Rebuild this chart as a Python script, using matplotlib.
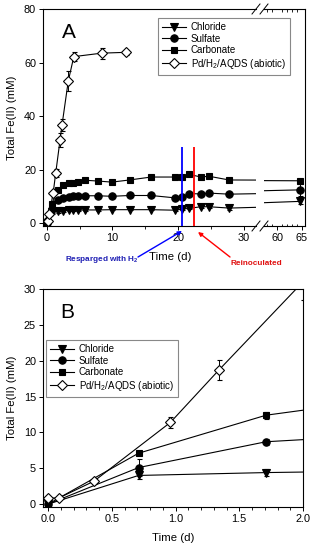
import matplotlib
matplotlib.use("Agg")
import matplotlib.pyplot as plt
from matplotlib.lines import Line2D

plt.rcParams['font.family'] = ['Liberation Sans', 'DejaVu Sans']
plt.rcParams['mathtext.fontset'] = 'custom'
plt.rcParams['mathtext.rm'] = 'Liberation Sans'
plt.rcParams['mathtext.bf'] = 'Liberation Sans:bold'

# ---- data ----
days_bio = [0, 0.71, 1.71, 2.5, 3.3, 4.0, 4.8, 5.8, 7.8, 9.9, 12.6,
            15.9, 19.6, 20.6, 21.7, 23.5, 24.7, 27.8, 64.6]
chloride = [0, 4.0, 4.4, 4.6, 4.7, 4.8, 4.8, 4.9, 4.9, 5.0, 5.0,
            5.0, 4.8, 5.2, 5.5, 6.1, 6.1, 5.6, 8.1]
chloride_err = [0, 0.5, 0.5, 0.3, 0.3, 0.3, 0.3, 0.3, 0.3, 0.3, 0.3,
                0.3, 0.3, 0.3, 0.3, 0.4, 0.4, 0.6, 0.8]
sulfate = [0, 5.1, 8.7, 9.5, 9.9, 10.1, 10.2, 10.2, 10.2, 10.0, 10.3,
           10.3, 9.4, 9.6, 11.0, 10.9, 11.2, 10.8, 12.4]
sulfate_err = [0, 1.2, 0.4, 0.3, 0.3, 0.3, 0.3, 0.3, 0.3, 0.3, 0.3,
               0.3, 0.3, 0.3, 0.4, 0.4, 0.4, 0.5, 2.2]
carbonate = [0, 7.1, 12.4, 14.3, 14.8, 15.1, 15.4, 16.0, 15.7, 15.3, 16.1,
             17.2, 17.2, 17.3, 18.2, 17.2, 17.5, 16.1, 15.8]
carbonate_err = [0, 0.3, 0.5, 0.3, 0.3, 0.3, 0.3, 0.3, 0.3, 0.3, 0.3,
                 0.3, 0.3, 0.3, 0.4, 0.4, 0.4, 0.5, 0.8]
abiotic_days = [0, 0.089, 0.36, 0.96, 1.34, 2.0, 2.3, 3.25, 4.1, 8.35, 12.0]
abiotic = [0.8, 0.9, 3.2, 11.4, 18.7, 31.0, 36.6, 53.0, 62.2, 63.5, 63.8]
abiotic_err = [0.2, 0.2, 0.3, 0.8, 1.4, 2.5, 2.3, 3.7, 1.8, 2.0, 1.0]

resparge_day = 20.6
reinoc_day = 22.5
event_line_top = 28.4

W, H = 313, 550
fig = plt.figure(figsize=(W / 100, H / 100), dpi=100)


def px_rect(x0, y0, x1, y1):
    """image pixel box (top-left origin) -> figure fraction rect"""
    return [x0 / W, 1 - y1 / H, (x1 - x0) / W, (y1 - y0) / H]


SERIES = [
    ("Chloride", "v", 5.6, "black", days_bio, chloride, chloride_err),
    ("Sulfate", "o", 5.3, "black", days_bio, sulfate, sulfate_err),
    ("Carbonate", "s", 5.0, "black", days_bio, carbonate, carbonate_err),
    ("Pd/H$_2$/AQDS (abiotic)", "D", 4.8, "white", abiotic_days, abiotic, abiotic_err),
]


def draw_series(ax):
    for i, (label, mk, ms, mfc, x, y, e) in enumerate(SERIES):
        ax.errorbar(x, y, yerr=e, fmt="-", marker=mk, ms=ms, mfc=mfc, mec="black",
                    mew=0.8, color="black", lw=0.8, elinewidth=0.7, capsize=1.8,
                    capthick=0.7, zorder=3 + i)


def style_axis(ax):
    ax.tick_params(axis="both", which="major", direction="out", length=3,
                   width=0.7, labelsize=7.8, pad=2)
    ax.tick_params(axis="both", which="minor", direction="out", length=1.8, width=0.6)
    for s in ax.spines.values():
        s.set_linewidth(0.8)


def legend_handles():
    return [Line2D([], [], color="black", lw=0.8, marker=mk, ms=ms, mfc=mfc,
                   mec="black", mew=0.8) for (_, mk, ms, mfc, *_r) in SERIES]


labels = [s[0] for s in SERIES]

# ---------------- panel A (broken x axis) ----------------
axL = fig.add_axes(px_rect(43, 9, 256, 226))
axR = fig.add_axes(px_rect(264, 9, 305, 226), sharey=axL)
for ax in (axL, axR):
    draw_series(ax)
    style_axis(ax)
axL.set_xlim(-0.6, 31.9)
axR.set_xlim(57.4, 65.6)
axL.set_ylim(-1.1, 80)
axL.set_xticks([0, 10, 20, 30])
axL.set_xticks([5, 15, 25], minor=True)
axL.set_yticks([0, 20, 40, 60, 80])
axR.set_xticks([60, 65])
axR.set_xticks(range(58, 66), minor=True)
axL.spines["right"].set_visible(False)
axR.spines["left"].set_visible(False)
axR.tick_params(axis="y", left=False, labelleft=False)
axR.tick_params(axis="x", which="minor", top=True, direction="in")

axL.vlines([resparge_day], -1.1, event_line_top, color="#0000ff", lw=1.3, zorder=10)
axL.vlines([reinoc_day], -1.1, event_line_top, color="#ff0000", lw=1.3, zorder=10)

axL.set_xlabel("Time (d)", fontsize=8.2)
axL.xaxis.set_label_coords((170 - 43) / 213, -0.12)
axL.set_ylabel("Total Fe(II) (mM)", fontsize=8.2)
axL.yaxis.set_label_coords(-0.122, 0.5)
axL.text(0.088, 0.894, "A", transform=axL.transAxes, fontsize=15,
         ha="left", va="center")

# break marks
for yb in (9, 226):
    for xc in (256, 264):
        fig.add_artist(Line2D([(xc - 4) / W, (xc + 4) / W],
                              [1 - (yb + 5) / H, 1 - (yb - 5) / H],
                              color="black", lw=0.7))

fig.legend(legend_handles(), labels, loc="upper left",
           bbox_to_anchor=(158 / W, 1 - 18 / H), fontsize=7, frameon=True,
           fancybox=False, edgecolor="#888888", framealpha=1, borderpad=0.45,
           handlelength=2.4, handletextpad=0.5, labelspacing=0.15,
           borderaxespad=0).get_frame().set_linewidth(0.8)

# event annotations
fig.text(102 / W, 1 - 260 / H, r"Resparged with H$_\mathbf{2}$", color="#1f1fb4",
         fontsize=5.9, fontweight="bold", ha="center", va="center")
fig.text(256 / W, 1 - 263 / H, "Reinoculated", color="#e01010",
         fontsize=5.9, fontweight="bold", ha="center", va="center")
axL.annotate("", xy=(182, H - 231), xycoords="figure pixels",
             xytext=(138, H - 257), textcoords="figure pixels",
             arrowprops=dict(arrowstyle="-|>", color="#0000ff", lw=1.0,
                             mutation_scale=6, shrinkA=0, shrinkB=0),
             annotation_clip=False)
axL.annotate("", xy=(198, H - 232), xycoords="figure pixels",
             xytext=(230, H - 257), textcoords="figure pixels",
             arrowprops=dict(arrowstyle="-|>", color="#ff0000", lw=1.0,
                             mutation_scale=6, shrinkA=0, shrinkB=0),
             annotation_clip=False)

# ---------------- panel B ----------------
axB = fig.add_axes(px_rect(43, 289, 303, 507))
draw_series(axB)
style_axis(axB)
axB.set_xlim(-0.04, 2.0)
axB.set_ylim(-0.4, 30)
axB.set_xticks([0, 0.5, 1.0, 1.5, 2.0])
axB.set_xticklabels(["0.0", "0.5", "1.0", "1.5", "2.0"])
axB.set_xticks([i / 10 for i in range(21)], minor=True)
axB.set_yticks([0, 5, 10, 15, 20, 25, 30])
axB.set_xlabel("Time (d)", fontsize=8.2)
axB.xaxis.set_label_coords(0.5, -0.118)
axB.set_ylabel("Total Fe(II) (mM)", fontsize=8.2)
axB.yaxis.set_label_coords(-0.1, 0.5)
axB.text(0.065, 0.89, "B", transform=axB.transAxes, fontsize=15,
         ha="left", va="center")
fig.legend(legend_handles(), labels, loc="upper left",
           bbox_to_anchor=(46 / W, 1 - 340 / H), fontsize=7, frameon=True,
           fancybox=False, edgecolor="#888888", framealpha=1, borderpad=0.45,
           handlelength=2.4, handletextpad=0.5, labelspacing=0.15,
           borderaxespad=0).get_frame().set_linewidth(0.8)

fig.savefig("out.png", dpi=100)
